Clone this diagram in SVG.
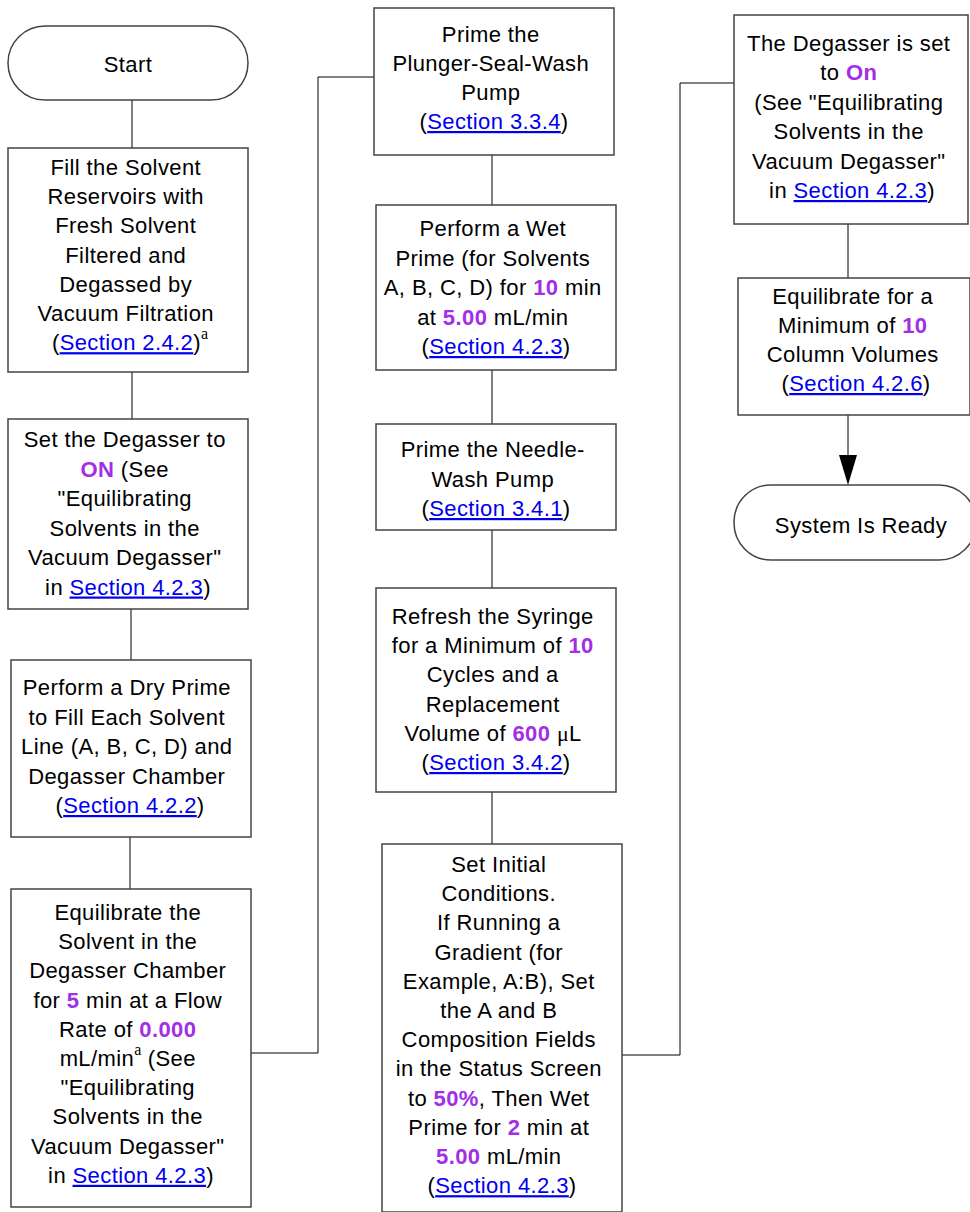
<svg xmlns="http://www.w3.org/2000/svg" width="970" height="1212" viewBox="0 0 970 1212">
  <style>
    .box { fill: #ffffff; stroke: #444444; stroke-width: 1.5; }
    .wire { fill: none; stroke: #000000; stroke-width: 1; }
    .t { font-family: "Liberation Sans", Arial, sans-serif; font-size: 22px; letter-spacing: 0.4px; fill: #000000; text-anchor: middle; }
    .v { fill: #a22ee6; font-weight: bold; }
    .lk { fill: #0000ee; text-decoration: underline; }
    .sup { font-family: "Liberation Serif", "Times New Roman", serif; font-size: 16px; letter-spacing: 0; }
    .mu { font-family: "Liberation Serif", "Times New Roman", serif; }
  </style>
  <rect width="970" height="1212" fill="#ffffff"/>

  <!-- connectors -->
  <g id="connectors">
    <line class="wire" x1="132" y1="100" x2="132" y2="148"/>
    <line class="wire" x1="132" y1="372" x2="132" y2="419"/>
    <line class="wire" x1="131" y1="609" x2="131" y2="660"/>
    <line class="wire" x1="130" y1="837" x2="130" y2="889"/>
    <polyline class="wire" points="251,1053 318,1053 318,77 374,77"/>
    <line class="wire" x1="492" y1="155" x2="492" y2="205"/>
    <line class="wire" x1="492" y1="370" x2="492" y2="424"/>
    <line class="wire" x1="492" y1="530" x2="492" y2="588"/>
    <line class="wire" x1="492" y1="792" x2="492" y2="844"/>
    <polyline class="wire" points="622,1055 680,1055 680,83 734,83"/>
    <line class="wire" x1="848" y1="224" x2="848" y2="278"/>
    <line class="wire" x1="848" y1="415" x2="848" y2="456"/>
    <polygon points="839,455 857,455 848,485" fill="#000000"/>
  </g>

  <!-- start -->
  <g id="start">
    <rect class="box" x="8" y="26" width="240" height="74" rx="37" ry="37"/>
    <text class="t" x="128" y="72">Start</text>
  </g>

  <!-- column 1 -->
  <g id="fill-reservoirs">
    <rect class="box" x="8" y="148" width="240" height="224"/>
    <text class="t">
      <tspan x="129" y="175">Fill the Solvent</tspan>
      <tspan x="129" y="204.2">Reservoirs with</tspan>
      <tspan x="129" y="233.4">Fresh Solvent</tspan>
      <tspan x="129" y="262.6">Filtered and</tspan>
      <tspan x="129" y="291.8">Degassed by</tspan>
      <tspan x="129" y="321">Vacuum Filtration</tspan>
      <tspan x="130" y="350.2">(<tspan class="lk">Section 2.4.2</tspan>)<tspan class="sup" dy="-11">a</tspan></tspan>
    </text>
  </g>

  <g id="degasser-on">
    <rect class="box" x="8" y="419" width="240" height="190"/>
    <text class="t">
      <tspan x="128" y="447">Set the Degasser to</tspan>
      <tspan x="128" y="476.5"><tspan class="v">ON</tspan> (See</tspan>
      <tspan x="128" y="506">"Equilibrating</tspan>
      <tspan x="128" y="535.5">Solvents in the</tspan>
      <tspan x="128" y="565">Vacuum Degasser"</tspan>
      <tspan x="128" y="594.5">in <tspan class="lk">Section 4.2.3</tspan>)</tspan>
    </text>
  </g>

  <g id="dry-prime">
    <rect class="box" x="11" y="660" width="240" height="177"/>
    <text class="t">
      <tspan x="130" y="695">Perform a Dry Prime</tspan>
      <tspan x="130" y="724.5">to Fill Each Solvent</tspan>
      <tspan x="130" y="754">Line (A, B, C, D) and</tspan>
      <tspan x="130" y="783.5">Degasser Chamber</tspan>
      <tspan x="130" y="813">(<tspan class="lk">Section 4.2.2</tspan>)</tspan>
    </text>
  </g>

  <g id="equilibrate-chamber">
    <rect class="box" x="11" y="889" width="240" height="318"/>
    <text class="t">
      <tspan x="131" y="920">Equilibrate the</tspan>
      <tspan x="131" y="949.2">Solvent in the</tspan>
      <tspan x="131" y="978.4">Degasser Chamber</tspan>
      <tspan x="131" y="1007.6">for <tspan class="v">5</tspan> min at a Flow</tspan>
      <tspan x="131" y="1036.8">Rate of <tspan class="v">0.000</tspan></tspan>
      <tspan x="131" y="1066">mL/min<tspan class="sup" dy="-11">a</tspan><tspan dy="11"> (See</tspan></tspan>
      <tspan x="131" y="1095.2">"Equilibrating</tspan>
      <tspan x="131" y="1124.4">Solvents in the</tspan>
      <tspan x="131" y="1153.6">Vacuum Degasser"</tspan>
      <tspan x="131" y="1182.8">in <tspan class="lk">Section 4.2.3</tspan>)</tspan>
    </text>
  </g>

  <!-- column 2 -->
  <g id="seal-wash">
    <rect class="box" x="374" y="8" width="240" height="147"/>
    <text class="t">
      <tspan x="494" y="42">Prime the</tspan>
      <tspan x="494" y="71">Plunger-Seal-Wash</tspan>
      <tspan x="494" y="100">Pump</tspan>
      <tspan x="494" y="129">(<tspan class="lk">Section 3.3.4</tspan>)</tspan>
    </text>
  </g>

  <g id="wet-prime">
    <rect class="box" x="376" y="205" width="240" height="165"/>
    <text class="t">
      <tspan x="496" y="236">Perform a Wet</tspan>
      <tspan x="496" y="265.5">Prime (for Solvents</tspan>
      <tspan x="496" y="295">A, B, C, D) for <tspan class="v">10</tspan> min</tspan>
      <tspan x="496" y="324.5">at <tspan class="v">5.00</tspan> mL/min</tspan>
      <tspan x="496" y="354">(<tspan class="lk">Section 4.2.3</tspan>)</tspan>
    </text>
  </g>

  <g id="needle-wash">
    <rect class="box" x="376" y="424" width="240" height="106"/>
    <text class="t">
      <tspan x="496" y="457">Prime the Needle-</tspan>
      <tspan x="496" y="486.5">Wash Pump</tspan>
      <tspan x="496" y="516">(<tspan class="lk">Section 3.4.1</tspan>)</tspan>
    </text>
  </g>

  <g id="refresh-syringe">
    <rect class="box" x="376" y="588" width="240" height="204"/>
    <text class="t">
      <tspan x="496" y="624">Refresh the Syringe</tspan>
      <tspan x="496" y="653.2">for a Minimum of <tspan class="v">10</tspan></tspan>
      <tspan x="496" y="682.4">Cycles and a</tspan>
      <tspan x="496" y="711.6">Replacement</tspan>
      <tspan x="496" y="740.8">Volume of <tspan class="v">600</tspan> <tspan class="mu">μ</tspan>L</tspan>
      <tspan x="496" y="770">(<tspan class="lk">Section 3.4.2</tspan>)</tspan>
    </text>
  </g>

  <g id="initial-conditions">
    <rect class="box" x="382" y="844" width="240" height="368"/>
    <text class="t">
      <tspan x="502" y="872">Set Initial</tspan>
      <tspan x="502" y="901.2">Conditions.</tspan>
      <tspan x="502" y="930.4">If Running a</tspan>
      <tspan x="502" y="959.6">Gradient (for</tspan>
      <tspan x="502" y="988.8">Example, A:B), Set</tspan>
      <tspan x="502" y="1018">the A and B</tspan>
      <tspan x="502" y="1047.2">Composition Fields</tspan>
      <tspan x="502" y="1076.4">in the Status Screen</tspan>
      <tspan x="502" y="1105.6">to <tspan class="v">50%</tspan>, Then Wet</tspan>
      <tspan x="502" y="1134.8">Prime for <tspan class="v">2</tspan> min at</tspan>
      <tspan x="502" y="1164"><tspan class="v">5.00</tspan> mL/min</tspan>
      <tspan x="502" y="1193.2">(<tspan class="lk">Section 4.2.3</tspan>)</tspan>
    </text>
  </g>

  <!-- column 3 -->
  <g id="degasser-set">
    <rect class="box" x="734" y="15" width="234" height="209"/>
    <text class="t">
      <tspan x="852" y="51">The Degasser is set</tspan>
      <tspan x="852" y="80.4">to <tspan class="v">On</tspan></tspan>
      <tspan x="852" y="109.8">(See "Equilibrating</tspan>
      <tspan x="852" y="139.2">Solvents in the</tspan>
      <tspan x="852" y="168.6">Vacuum Degasser"</tspan>
      <tspan x="852" y="198">in <tspan class="lk">Section 4.2.3</tspan>)</tspan>
    </text>
  </g>

  <g id="column-volumes">
    <rect class="box" x="738" y="278" width="232" height="137"/>
    <text class="t">
      <tspan x="856" y="304">Equilibrate for a</tspan>
      <tspan x="856" y="333">Minimum of <tspan class="v">10</tspan></tspan>
      <tspan x="856" y="362">Column Volumes</tspan>
      <tspan x="856" y="391">(<tspan class="lk">Section 4.2.6</tspan>)</tspan>
    </text>
  </g>

  <g id="system-ready">
    <rect class="box" x="734" y="485" width="242" height="75" rx="37" ry="37"/>
    <text class="t" x="861" y="533">System Is Ready</text>
  </g>
</svg>
